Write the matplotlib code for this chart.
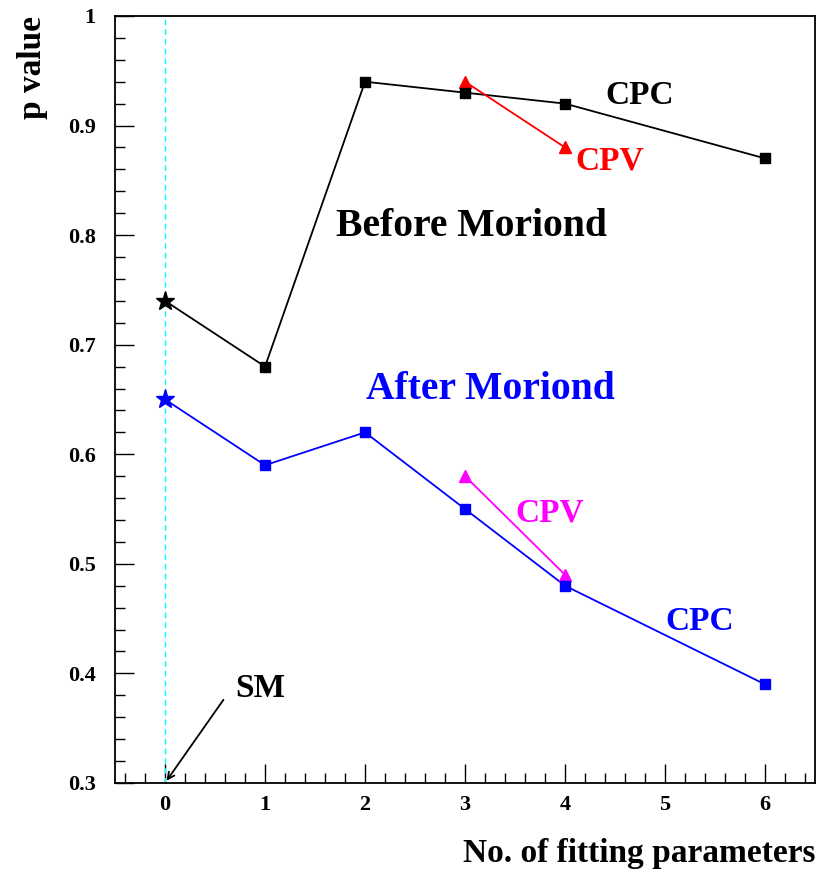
import numpy as np
import matplotlib.pyplot as plt
from matplotlib.ticker import MultipleLocator

plt.rcParams['font.family'] = ['Liberation Serif', 'DejaVu Serif']
plt.rcParams['font.weight'] = 'bold'
plt.rcParams['axes.labelweight'] = 'bold'

# data
npar = [0, 1, 2, 3, 4, 6]
before_cpc = [0.74, 0.68, 0.94, 0.93, 0.92, 0.87]
after_cpc = [0.65, 0.59, 0.62, 0.55, 0.48, 0.39]
npar_cpv = [3, 4]
before_cpv = [0.94, 0.88]
after_cpv = [0.58, 0.49]

fig = plt.figure(figsize=(8.17, 8.72), dpi=100)
ax = fig.add_axes([0.1408, 0.1021, 0.8568, 0.8796])

ax.axvline(0, color='cyan', ls=(0, (4, 3)), lw=1)

# before moriond
ax.plot(npar, before_cpc, color='black', lw=1.3, zorder=3)
ax.plot(npar[1:], before_cpc[1:], 's', color='black', ms=7, zorder=4)
ax.plot(npar[0], before_cpc[0], '*', color='black', ms=14, zorder=4)
ax.plot(npar_cpv, before_cpv, color='red', lw=1.3, marker='^', ms=8, zorder=3)

# after moriond
ax.plot(npar, after_cpc, color='blue', lw=1.3, zorder=3)
ax.plot(npar[1:], after_cpc[1:], 's', color='blue', ms=7, zorder=4)
ax.plot(npar[0], after_cpc[0], '*', color='blue', ms=14, zorder=4)
ax.plot(npar_cpv, after_cpv, color='magenta', lw=1.3, marker='^', ms=8, zorder=3)

ax.text(4.4, 0.9196, 'CPC', color='black', fontsize=24)
ax.text(4.1, 0.8602, 'CPV', color='red', fontsize=24)
ax.text(3.06, 0.799, 'Before Moriond', color='black', fontsize=28.5, ha='center')
ax.text(3.25, 0.650, 'After Moriond', color='blue', fontsize=28.5, ha='center')
ax.text(3.5, 0.5385, 'CPV', color='magenta', fontsize=24)
ax.text(5.0, 0.4398, 'CPC', color='blue', fontsize=24)

ax.annotate('', xy=(0, 0.3), xytext=(0.6, 0.378),
            arrowprops=dict(arrowstyle='->', color='black', lw=1.3, mutation_scale=12))
ax.text(0.7, 0.3786, 'SM', color='black', fontsize=24)

ax.set_xlim(-0.5, 6.5)
ax.set_ylim(0.3, 1.0)
ax.xaxis.set_major_locator(MultipleLocator(1))
ax.xaxis.set_minor_locator(MultipleLocator(0.2))
ax.yaxis.set_minor_locator(MultipleLocator(0.02))
ax.set_yticks(np.arange(0.3, 1.01, 0.1))
ax.set_yticklabels(['0.3', '0.4', '0.5', '0.6', '0.7', '0.8', '0.9', '1'])
ax.tick_params(which='major', direction='in', length=14, width=1, labelsize=16)
ax.tick_params(axis='x', which='major', pad=9)
ax.tick_params(axis='y', which='major', pad=14)
ax.tick_params(which='minor', direction='in', length=7, width=1)
ax.tick_params(top=False, right=False, which='both')
for s in ax.spines.values():
    s.set_linewidth(1.3)

ax.set_xlabel('No. of fitting parameters', fontsize=24, loc='right', labelpad=16)
ax.set_ylabel('p value', fontsize=24, loc='top', labelpad=14)

fig.savefig('out.png', dpi=100)
